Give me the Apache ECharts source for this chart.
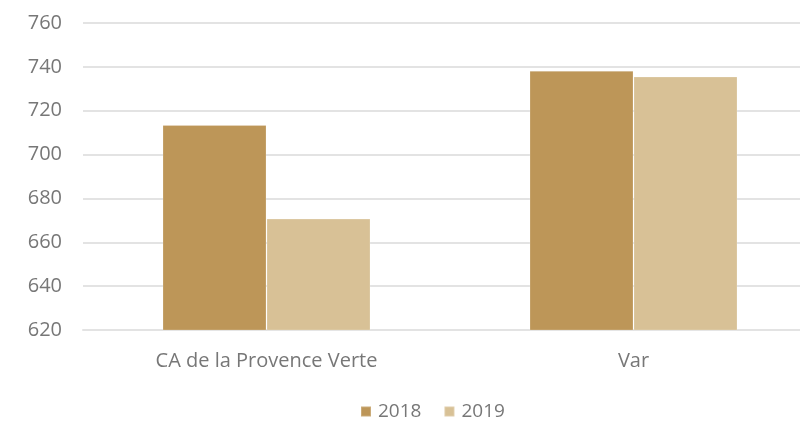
<!DOCTYPE html>
<html>
<head>
<meta charset="utf-8">
<script src="https://cdn.jsdelivr.net/npm/echarts@6/dist/echarts.min.js"></script>
<style>
  html, body { margin: 0; padding: 0; background: #fff; }
  #chart { width: 800px; height: 421px; }
</style>
</head>
<body>
<div id="chart"></div>
<script>
// Territories compared and their values for each year
const categories = ['CA de la Provence Verte', 'Var'];
const values2018 = [713.5, 738.2];
const values2019 = [670.8, 735.6];
const yearNames = ['2018', '2019'];

const textColor = '#777777';
const fontFamily = '"Open Sans", sans-serif';

const chart = echarts.init(document.getElementById('chart'));
chart.setOption({
  animation: false,
  grid: { left: 83, top: 23, right: -17, bottom: 91, containLabel: false, outerBoundsMode: 'none' },
  legend: {
    data: yearNames,
    left: 355,
    top: 397,
    itemWidth: 10,
    itemHeight: 10,
    itemGap: 22,
    icon: 'rect',
    textStyle: { color: textColor, fontSize: 19, fontFamily: fontFamily, padding: [0, 0, 0, 2] }
  },
  xAxis: {
    type: 'category',
    data: categories,
    axisLine: { lineStyle: { color: '#e3e3e3', width: 2 } },
    axisTick: { show: false },
    axisLabel: { color: textColor, fontSize: 20, fontFamily: fontFamily, margin: 21 }
  },
  yAxis: {
    type: 'value',
    min: 620,
    max: 760,
    interval: 20,
    axisLine: { show: false },
    axisTick: { show: false },
    splitLine: { lineStyle: { color: '#e3e3e3', width: 2 } },
    axisLabel: { color: textColor, fontSize: 20, fontFamily: fontFamily, margin: 21 }
  },
  series: [
    {
      name: yearNames[0],
      type: 'bar',
      data: values2018,
      barWidth: 104,
      barGap: '0%',
      itemStyle: { color: '#bd9658', borderColor: 'rgba(255,255,255,0.2)', borderWidth: 1 }
    },
    {
      name: yearNames[1],
      type: 'bar',
      data: values2019,
      barWidth: 104,
      barGap: '0%',
      itemStyle: { color: '#d8c196', borderColor: 'rgba(255,255,255,0.2)', borderWidth: 1 }
    }
  ]
});
</script>
</body>
</html>
